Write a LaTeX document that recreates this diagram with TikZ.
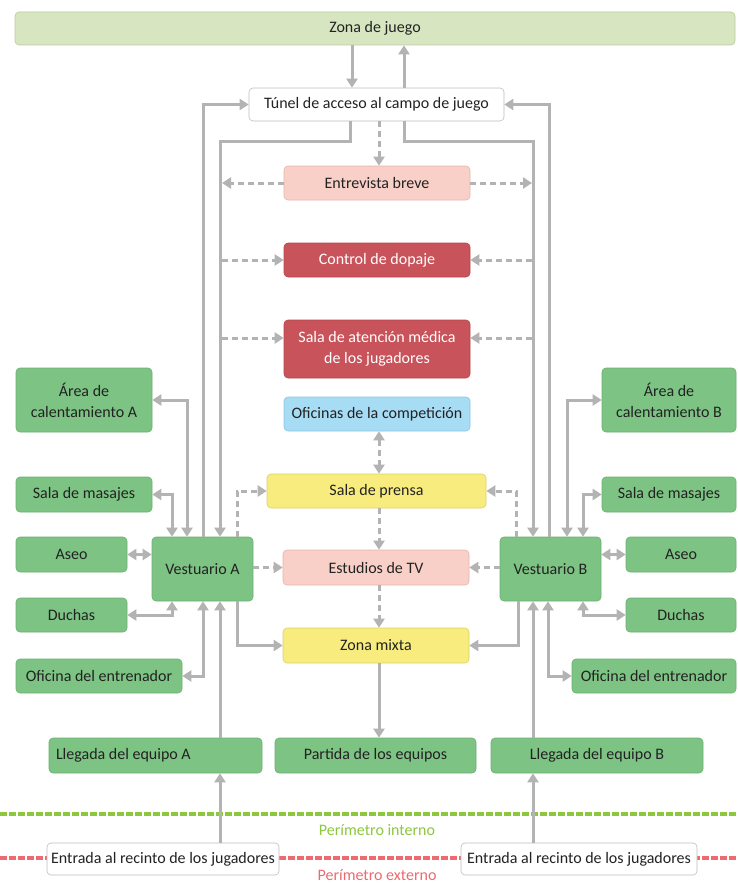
\documentclass[tikz,border=0pt]{standalone}
\usepackage{fontspec}
\setmainfont{Carlito}
\usetikzlibrary{arrows.meta}
\definecolor{gfill}{HTML}{7DC383}
\definecolor{gdraw}{HTML}{6AB071}
\definecolor{zfill}{HTML}{D7E6C1}
\definecolor{zdraw}{HTML}{B9CC9E}
\definecolor{pfill}{HTML}{F9D0C8}
\definecolor{pdraw}{HTML}{E6B3AA}
\definecolor{rfill}{HTML}{C9535A}
\definecolor{rdraw}{HTML}{B5464D}
\definecolor{bfill}{HTML}{A6DCF4}
\definecolor{bdraw}{HTML}{8DC5DE}
\definecolor{yfill}{HTML}{F7EC7D}
\definecolor{ydraw}{HTML}{DCD068}
\definecolor{wdraw}{HTML}{BDBDBD}
\definecolor{arrgray}{HTML}{B3B3B3}
\definecolor{txt}{HTML}{222222}
\definecolor{perin}{HTML}{8DC63F}
\definecolor{perex}{HTML}{EC6A70}
\begin{document}
\begin{tikzpicture}[x=1pt,y=-1pt,
  box/.style={rounded corners=4pt, draw, line width=0.6pt, minimum height=34pt, inner sep=2pt,
     font=\fontsize{16}{21}\selectfont, text=txt, align=center},
  gbox/.style={box, fill=gfill, draw=gdraw},
  zbox/.style={box, fill=zfill, draw=zdraw},
  pbox/.style={box, fill=pfill, draw=pdraw},
  rbox/.style={box, fill=rfill, draw=rdraw, text=white},
  bbox/.style={box, fill=bfill, draw=bdraw},
  ybox/.style={box, fill=yfill, draw=ydraw},
  wbox/.style={box, fill=white, draw=wdraw},
  arr/.style={draw=arrgray, line width=3pt, -{Triangle[length=9pt,width=11pt]}},
  darr/.style={arr, dash pattern=on 6pt off 4pt},
  dbl/.style={draw=arrgray, line width=3pt, {Triangle[length=9pt,width=11pt]}-{Triangle[length=9pt,width=11pt]}},
  ddbl/.style={dbl, dash pattern=on 6pt off 4pt},
  perlbl/.style={font=\fontsize{16}{19}\selectfont}
]
\useasboundingbox (0,0) rectangle (737,883);

% perimeter lines
\draw[perin, line width=3.5pt, dash pattern=on 7pt off 2pt] (0,814) -- (737,814);
\draw[perex, line width=4pt, dash pattern=on 7pt off 2pt] (0,858) -- (737,858);
\node[perlbl, text=perin] (pint) at (377,830) {Perímetro interno};
\node[perlbl, text=perex] (pext) at (377,875) {Perímetro externo};

% nodes
\node[zbox, minimum width=720pt, minimum height=33pt] (zona) at (375,28.5) {Zona de juego};
\node[wbox, minimum width=255pt, minimum height=33pt] (tunel) at (376.5,104.5) {Túnel de acceso al campo de juego};
\node[pbox, minimum width=186pt] (entrevista) at (377,183) {Entrevista breve};
\node[rbox, minimum width=186pt] (dopaje) at (377,260) {Control de dopaje};
\node[rbox, minimum width=186pt, minimum height=58pt] (medica) at (377,349) {Sala de atención médica\\de los jugadores};
\node[bbox, minimum width=186pt] (oficinas) at (377,414) {Oficinas de la competición};
\node[ybox, minimum width=219pt] (prensa) at (376.5,491) {Sala de prensa};
\node[pbox, minimum width=186pt, minimum height=35pt] (tv) at (376,567.5) {Estudios de TV};
\node[ybox, minimum width=186pt, minimum height=35pt] (mixta) at (376,645.5) {Zona mixta};
\node[gbox, minimum width=201pt, minimum height=35pt] (partida) at (375.5,755.5) {Partida de los equipos};
\node[gbox, text width=199pt, inner xsep=7pt, align=flush left, minimum height=35pt] (llegadaA) at (155.5,755.5) {Llegada del equipo A};
\node[gbox, minimum width=212pt, minimum height=35pt] (llegadaB) at (597,755.5) {Llegada del equipo B};
\node[wbox, minimum width=232pt, minimum height=32pt] (entradaA) at (163,859) {Entrada al recinto de los jugadores};
\node[wbox, minimum width=236pt, minimum height=32pt] (entradaB) at (579,859) {Entrada al recinto de los jugadores};

\node[gbox, minimum width=101pt, minimum height=64pt] (vestA) at (202.5,569) {Vestuario A};
\node[gbox, minimum width=101pt, minimum height=64pt] (vestB) at (550.5,569) {Vestuario B};

\node[gbox, minimum width=136pt, minimum height=64pt] (areaA) at (84,400) {Área de\\calentamiento A};
\node[gbox, minimum width=136pt, minimum height=35pt] (masajesA) at (84,494.5) {Sala de masajes};
\node[gbox, minimum width=111pt, minimum height=35pt] (aseoA) at (71.5,554.5) {Aseo};
\node[gbox, minimum width=111pt] (duchasA) at (71.5,615) {Duchas};
\node[gbox, minimum width=166pt] (oficinaA) at (99,676) {Oficina del entrenador};

\node[gbox, minimum width=134pt, minimum height=64pt] (areaB) at (669,400) {Área de\\calentamiento B};
\node[gbox, minimum width=134pt, minimum height=35pt] (masajesB) at (669,494.5) {Sala de masajes};
\node[gbox, minimum width=110pt, minimum height=35pt] (aseoB) at (681,554.5) {Aseo};
\node[gbox, minimum width=110pt] (duchasB) at (681,615) {Duchas};
\node[gbox, minimum width=164pt] (oficinaB) at (654,676) {Oficina del entrenador};

% free-end coordinates on the inner vertical lines
\coordinate (eL) at (222,183);
\coordinate (eR) at (532,183);
\coordinate (dL) at (222,260);
\coordinate (dR) at (532,260);
\coordinate (mL) at (222,338);
\coordinate (mR) at (532,338);

% top
\draw[arr] (zona.south -| 352,0) -- (tunel.north -| 352,0);
\draw[arr] (tunel.north -| 404,0) -- (zona.south -| 404,0);
\draw[arr] (vestA.north -| 203,0) |- (tunel.west);
\draw[arr] (vestB.north -| 549,0) |- (tunel.east);
\draw[arr] (tunel.south -| 350,0) -- (350,141) -| (vestA.north -| 220,0);
\draw[arr] (tunel.south -| 404,0) -- (404,141) -| (vestB.north -| 533,0);
\draw[darr] (tunel.south -| 379,0) -- (entrevista.north -| 379,0);

% dashed side links
\draw[darr] (entrevista.west) -- (eL);
\draw[darr] (entrevista.east) -- (eR);
\draw[darr] (dL) -- (dopaje.west);
\draw[darr] (dR) -- (dopaje.east);
\draw[darr] (mL) -- (medica.west |- mL);
\draw[darr] (mR) -- (medica.east |- mR);

% center column
\draw[ddbl] (oficinas.south -| 379,0) -- (prensa.north -| 379,0);
\draw[darr] (prensa.south -| 379,0) -- (tv.north -| 379,0);
\draw[darr] (tv.south -| 379,0) -- (mixta.north -| 379,0);
\draw[arr] (mixta.south -| 379,0) -- (partida.north -| 379,0);

% Vestuario A
\draw[dbl] (vestA.north -| 187,0) |- (areaA.east);
\draw[dbl] (vestA.north -| 172,0) |- (masajesA.east);
\draw[darr] (vestA.north -| 237,0) |- (prensa.west);
\draw[dbl] (vestA.west |- aseoA.east) -- (aseoA.east);
\draw[dbl] (vestA.south -| 172,0) |- (duchasA.east);
\draw[dbl] (vestA.south -| 203,0) |- (oficinaA.east);
\draw[arr] (llegadaA.north -| 220,0) -- (vestA.south -| 220,0);
\draw[darr] (vestA.east |- tv.west) -- (tv.west);
\draw[arr] (vestA.south -| 237,0) |- (mixta.west);
\draw[arr] (entradaA.north -| 220,0) -- (llegadaA.south -| 220,0);

% Vestuario B
\draw[dbl] (vestB.north -| 567,0) |- (areaB.west);
\draw[dbl] (vestB.north -| 583,0) |- (masajesB.west);
\draw[darr] (vestB.north -| 516,0) |- (prensa.east);
\draw[dbl] (vestB.east |- aseoB.west) -- (aseoB.west);
\draw[dbl] (vestB.south -| 583,0) |- (duchasB.west);
\draw[dbl] (vestB.south -| 548,0) |- (oficinaB.west);
\draw[arr] (llegadaB.north -| 533,0) -- (vestB.south -| 533,0);
\draw[darr] (vestB.west |- tv.east) -- (tv.east);
\draw[arr] (vestB.south -| 518,0) |- (mixta.east);
\draw[arr] (entradaB.north -| 533,0) -- (llegadaB.south -| 533,0);

\end{tikzpicture}
\end{document}
